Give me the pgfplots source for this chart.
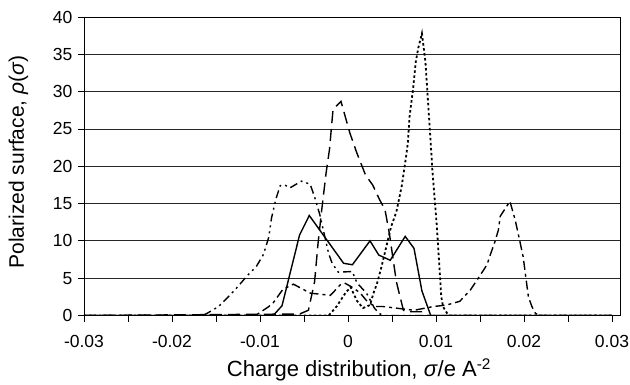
\documentclass[border=0pt]{standalone}
\usepackage{fontspec}
\setmainfont{Liberation Sans}
\usepackage{pgfplots}
\pgfplotsset{compat=1.18}
\begin{document}
\begin{tikzpicture}
\useasboundingbox (-84pt,-68.5pt) rectangle (546pt,315.5pt);
\begin{axis}[
  at={(0,0)}, anchor=south west,
  scale only axis, width=536pt, height=298.5pt,
  xmin=-0.03, xmax=0.03091, ymin=0, ymax=40,
  scaled x ticks=false,
  xtick={-0.03,-0.02,-0.01,0,0.01,0.02,0.03},
  xticklabels={-0.03,-0.02,-0.01,0,0.01,0.02,0.03},
  minor xtick={-0.025,-0.015,-0.005,0.005,0.015,0.025},
  ytick={0,5,10,15,20,25,30,35,40},
  yticklabels={0,5,10,15,20,25,30,35,40},
  xtick pos=bottom, ytick pos=left,
  ymajorgrids, grid style={black!85, line width=0.8pt},
  tick align=outside, major tick length=6pt, minor tick length=6pt,
  tick style={black, line width=0.8pt},
  axis line style={line width=0.9pt},
  ticklabel style={font=\fontsize{17.5}{20}\selectfont},
  xticklabel style={yshift=-10pt},
  yticklabel style={xshift=-2pt},
  xlabel={Charge distribution, \textit{σ}/e A\textsuperscript{-2}},
  ylabel={Polarized surface, \textit{ρ}(\textit{σ})},
  label style={font=\fontsize{21}{25}\selectfont},
  xlabel style={font=\fontsize{22}{26}\selectfont, at={(axis description cs:0.513,-0.206)}, anchor=base},
  ylabel style={at={(axis description cs:-0.112,0.515)}, anchor=base},
  every axis plot/.append style={black, line width=1.4pt, no markers},
]
% solid
\addplot[solid] coordinates {
(-0.03,0) (-0.0085,0) (-0.0075,1.3) (-0.0055,10.8) (-0.0044,13.4) (-0.0005,7.0)
(0.0005,6.8) (0.0025,10.0) (0.0035,8.1) (0.0048,7.4) (0.0065,10.6) (0.0075,9.0)
(0.0084,3.3) (0.0094,0) (0.03,0)};
% long dash
\addplot[dash pattern=on 12pt off 6pt] coordinates {
(-0.03,0) (-0.0055,0.2) (-0.0045,0.7) (-0.0038,4.5) (-0.0034,9.7) (-0.003,14)
(-0.0025,19) (-0.0021,22.3) (-0.0017,27.6) (-0.0008,28.7) (0.0002,24.5) (0.001,21.8)
(0.002,18.8) (0.0028,17.5) (0.0036,15.5) (0.0042,14.2) (0.0047,11) (0.0055,4.5)
(0.0063,0.7) (0.0068,0.5) (0.0085,0.5) (0.009,0) (0.03,0)};
% dotted
\addplot[dash pattern=on 2.5pt off 2.5pt, line width=1.8pt] coordinates {
(-0.03,0) (-0.0022,0) (-0.0013,1.2) (-0.0003,3.0) (0.0003,3.8) (0.001,2.0)
(0.0017,1.0) (0.0025,1.4) (0.0029,3.0) (0.0033,4.3) (0.0038,6.5) (0.0049,11.9)
(0.0055,13.9) (0.0061,17.3) (0.0066,21.3) (0.0068,23.1) (0.007,26.7) (0.0074,30.4)
(0.0077,34) (0.008,35.9) (0.0084,37.8) (0.0086,35.9) (0.0088,34) (0.009,30.4)
(0.0092,26.7) (0.0094,23.1) (0.0096,19.3) (0.0101,11.9) (0.0104,6.3) (0.0106,2.5)
(0.0108,1.2) (0.0112,0.4) (0.0115,0) (0.03,0)};
% dash dot dot (broad left)
\addplot[dash pattern=on 8pt off 4pt on 2pt off 4pt on 2pt off 4pt] coordinates {
(-0.03,0) (-0.0165,0) (-0.016,0.3) (-0.0147,1.2) (-0.0136,2.5) (-0.0125,3.9)
(-0.0114,5.4) (-0.0104,6.6) (-0.0096,8.2) (-0.009,10.5) (-0.0087,13) (-0.0082,15.6)
(-0.0077,17.4) (-0.0072,17.5) (-0.0066,17.1) (-0.0053,18.0) (-0.0043,17.6)
(-0.0038,15.9) (-0.0032,13.5) (-0.0022,8.3) (-0.0018,7.0) (-0.0011,5.8) (0.0005,5.9)
(0.001,4.4) (0.0021,3.0) (0.003,1.0) (0.0035,0.3) (0.004,0) (0.03,0)};
% dash dot (right peak)
\addplot[dash pattern=on 9pt off 4pt on 3pt off 4pt] coordinates {
(-0.03,0) (-0.0105,0) (-0.009,1.2) (-0.0085,1.7) (-0.0074,3.5) (-0.0062,4.2)
(-0.0043,3.0) (-0.002,2.7) (-0.0008,4.2) (-0.0003,4.3) (0.0006,3.7) (0.0014,3.0)
(0.0021,2.0) (0.003,1.2) (0.004,1.2) (0.0075,0.7) (0.0097,1.2) (0.0112,1.4)
(0.0127,1.9) (0.0139,3.4) (0.0148,5.0) (0.0158,6.8) (0.0161,7.9) (0.0167,9.9)
(0.0171,11.5) (0.0173,13.3) (0.0184,15.3) (0.019,12.8) (0.0195,10.1) (0.0199,7.9)
(0.0201,6.1) (0.0205,2.5) (0.0209,1.2) (0.0213,0.3) (0.0218,0) (0.03,0)};
\end{axis}
\end{tikzpicture}
\end{document}
